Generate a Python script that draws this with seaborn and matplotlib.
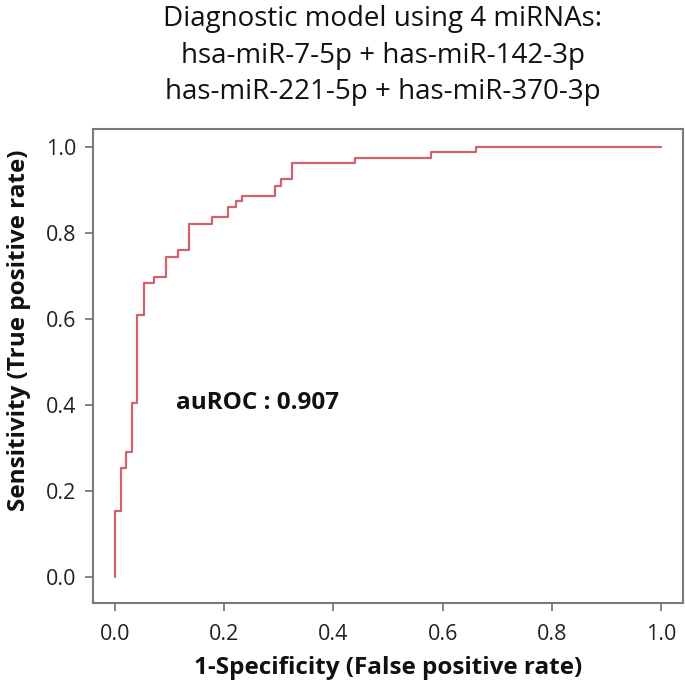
import matplotlib
matplotlib.use("Agg")
import matplotlib.pyplot as plt
import seaborn as sns
import pandas as pd

# ROC curve vertices (steps: vertical first, then horizontal)
fpr = [0.0, 0.0104, 0.0196, 0.0306, 0.0397, 0.0525, 0.072, 0.0928, 0.116, 0.135,
       0.178, 0.208, 0.221, 0.232, 0.294, 0.305, 0.325, 0.4396, 0.578, 0.661, 1.0]
tpr = [0.0, 0.154, 0.255, 0.291, 0.405, 0.609, 0.683, 0.697, 0.745, 0.760,
       0.822, 0.837, 0.861, 0.875, 0.886, 0.910, 0.925, 0.962, 0.974, 0.988, 1.0]
ticks = [0.0, 0.2, 0.4, 0.6, 0.8, 1.0]
tick_labels = ["0.0", "0.2", "0.4", "0.6", "0.8", "1.0"]
title_lines = ["Diagnostic model using 4 miRNAs:",
               "hsa-miR-7-5p + has-miR-142-3p",
               "has-miR-221-5p + has-miR-370-3p"]
auc_text = "auROC : 0.907"

sns.set_theme(style="white")
plt.rcParams['font.family'] = ['Open Sans', 'DejaVu Sans']

df = pd.DataFrame({"fpr": fpr, "tpr": tpr})

fig = plt.figure(figsize=(6.85, 6.9), dpi=100)
ax = fig.add_axes([93/685, 87/690, (683-93)/685, (603-129)/690])

sns.lineplot(data=df, x="fpr", y="tpr", ax=ax, sort=False, drawstyle="steps-pre",
             color="#d2636d", linewidth=1.6, estimator=None)

ax.set_xlim(-0.04, 1.04)
ax.set_ylim(-0.06, 1.042)
ax.set_xticks(ticks)
ax.set_xticklabels(tick_labels)
ax.set_yticks(ticks)
ax.set_yticklabels(tick_labels)

for s in ["top", "right", "left", "bottom"]:
    ax.spines[s].set_color("#7a7a7a")
    ax.spines[s].set_linewidth(1.5)

ax.tick_params(axis="both", which="both", direction="out", length=6, width=1.3,
               color="#7a7a7a", labelsize=15.5, labelcolor="#222222",
               bottom=True, left=True, top=False, right=False)
ax.tick_params(axis="x", pad=9)
ax.tick_params(axis="y", pad=6)

ax.set_xlabel("1-Specificity (False positive rate)", fontsize=17.5, fontweight="bold",
              color="#111111", labelpad=8)
ax.set_ylabel("Sensitivity (True positive rate)", fontsize=17.5, fontweight="bold",
              color="#111111")
ax.yaxis.set_label_coords(-0.105, 0.576)

ax.text(0.112, 0.405, auc_text, fontsize=17.5, fontweight="bold", color="#111111",
        va="center", ha="left")

fig.text(0.559, 0.993, "\n".join(title_lines), ha="center", va="top",
         fontsize=20, color="#111111", linespacing=1.42)

fig.savefig("out.png", dpi=100)
